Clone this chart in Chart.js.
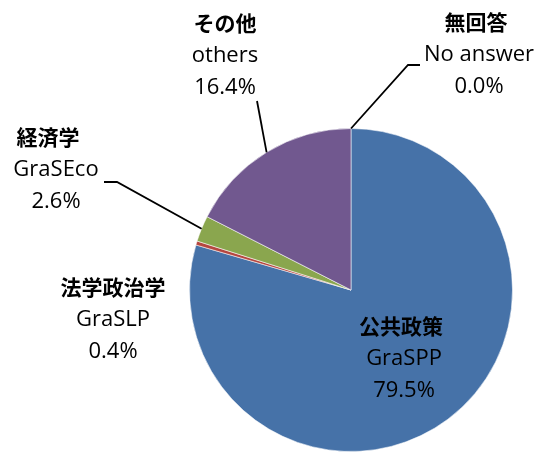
<!DOCTYPE html>
<html>
<head>
<meta charset="utf-8">
<script src="https://cdn.jsdelivr.net/npm/chart.js@4.4.1/dist/chart.umd.min.js"></script>
<style>
  html, body { margin: 0; padding: 0; background: #fff; }
  #pieChart { display: block; }
</style>
</head>
<body>
<canvas id="pieChart" width="541" height="452"></canvas>
<script>
const categoriesJa = ['公共政策', '法学政治学', '経済学', 'その他', '無回答'];
const categoriesEn = ['GraSPP', 'GraSLP', 'GraSEco', 'others', 'No answer'];
const percentLabels = ['79.5%', '0.4%', '2.6%', '16.4%', '0.0%'];
// slice sizes (the purple slice is drawn larger than its label)
const sliceValues = [79.5, 0.4, 2.6, 17.5, 0.0];
const sliceColors = ['#4672a8', '#b5463f', '#8aa64e', '#71588f', '#4672a8'];

// label block placement: centre x, first line y, optional leader elbow
const labelLayout = [
  { x: 404, y: 326, jx: 401 },
  { x: 113, y: 287 },
  { x: 56, y: 137, jx: 48, leader: [[104, 182], [117, 182]] },
  { x: 225, y: 23, leader: [[257, 101]] },
  { x: 479, y: 22, jx: 476, leader: [[420, 65], [408, 65]] }
];

const JA_FONT = 'bold 21px "Noto Sans CJK JP"';
const EN_FONT = '22px "Open Sans", "Noto Sans", sans-serif';
const LINE_GAP = 32.5;

const labelPlugin = {
  id: 'pieLabels',
  afterDatasetsDraw(chart) {
    const { ctx } = chart;
    const arcs = chart.getDatasetMeta(0).data;
    ctx.save();
    ctx.strokeStyle = '#000';
    ctx.lineWidth = 1.8;
    arcs.forEach((arc, i) => {
      const lay = labelLayout[i];
      if (!lay.leader) return;
      const p = arc.getProps(['x', 'y', 'startAngle', 'endAngle', 'outerRadius'], true);
      const mid = (p.startAngle + p.endAngle) / 2;
      const ex = p.x + Math.cos(mid) * p.outerRadius;
      const ey = p.y + Math.sin(mid) * p.outerRadius;
      ctx.beginPath();
      ctx.moveTo(lay.leader[0][0], lay.leader[0][1]);
      lay.leader.slice(1).forEach(([lx, ly]) => ctx.lineTo(lx, ly));
      ctx.lineTo(ex, ey);
      ctx.stroke();
    });
    ctx.fillStyle = '#000';
    ctx.textAlign = 'center';
    ctx.textBaseline = 'middle';
    arcs.forEach((arc, i) => {
      const lay = labelLayout[i];
      ctx.font = JA_FONT;
      ctx.fillText(categoriesJa[i], lay.jx ?? lay.x, lay.y);
      ctx.font = EN_FONT;
      ctx.fillText(categoriesEn[i], lay.x, lay.y + LINE_GAP);
      ctx.fillText(percentLabels[i], lay.x, lay.y + LINE_GAP * 2);
    });
    ctx.restore();
  }
};

new Chart(document.getElementById('pieChart'), {
  type: 'pie',
  data: {
    labels: categoriesJa,
    datasets: [{
      data: sliceValues,
      backgroundColor: sliceColors,
      borderColor: 'rgba(255,255,255,0.55)',
      borderWidth: 1
    }]
  },
  options: {
    responsive: false,
    animation: false,
    layout: { padding: { left: 189, right: 28, top: 128, bottom: 0 } },
    plugins: { legend: { display: false }, tooltip: { enabled: false } }
  },
  plugins: [labelPlugin]
});
</script>
</body>
</html>
